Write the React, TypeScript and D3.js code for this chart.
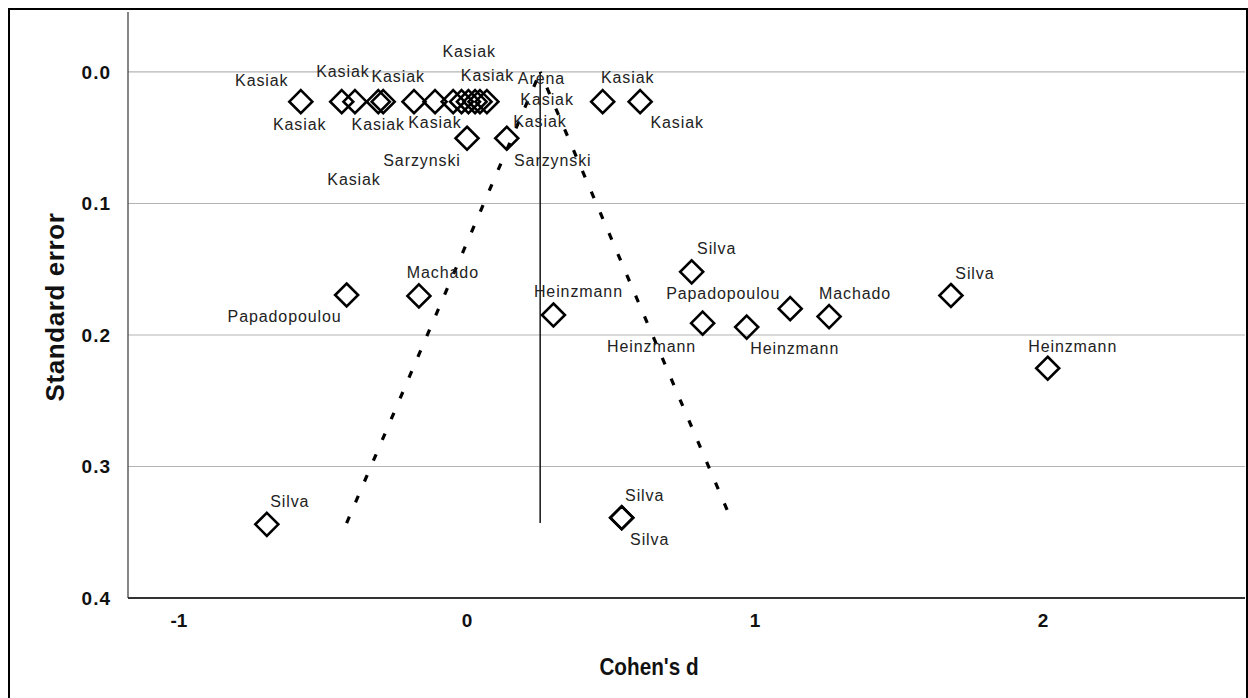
import React from "react";
import * as d3 from "d3";

// funnel plot: effect size vs standard error
const studies = [
  "Kasiak", "Kasiak", "Kasiak", "Kasiak", "Kasiak", "Kasiak", "Kasiak", "Kasiak", "Kasiak", "Arena",
  "Kasiak", "Kasiak", "Kasiak", "Kasiak", "Kasiak", "Sarzynski", "Sarzynski", "Silva", "Papadopoulou", "Machado",
  "Heinzmann", "Heinzmann", "Heinzmann", "Papadopoulou", "Machado", "Silva", "Heinzmann", "Silva", "Silva", "Silva",
];
const cohenD = [
  -0.577, -0.435, -0.389, -0.308, -0.291, -0.184, -0.111, -0.048, -0.019, 0.005,
  0.028, 0.045, 0.069, 0.471, 0.601, 0.0, 0.138, 0.78, -0.418, -0.167,
  0.3, 0.818, 0.971, 1.122, 1.257, 1.68, 2.016, -0.695, 0.537, 0.537,
];
const stdErr = [
  0.0226, 0.0226, 0.0226, 0.0226, 0.0226, 0.0226, 0.0226, 0.0226, 0.0226, 0.0226,
  0.0226, 0.0226, 0.0226, 0.0226, 0.0226, 0.0504, 0.0504, 0.152, 0.1696, 0.1703,
  0.1848, 0.191, 0.194, 0.18, 0.186, 0.17, 0.2253, 0.344, 0.339, 0.339,
];
const pooledD = 0.254;
const funnelLeft: [number, number][] = [[-0.418, 0.343], [0.254, 0]];
const funnelRight: [number, number][] = [[0.903, 0.333], [0.254, 0]];
const xTicks = [-1, 0, 1, 2];
const yTicks = [0, 0.1, 0.2, 0.3, 0.4];

// label placement in pixels relative to the marker (null = not shown)
const labelOffsets: ([number, number] | null)[] = [
  [-39, -21], [-42, 23], [-12, -30], [0, 23], [15, -25], [21, 21], [-81, 78], [16, -50], [26, -26], [73, -23],
  [72, -2], [60, 20], null, [25, -24], [37, 21], [-45, 22], [46, 22], [25, -24], [-62, 21], [24, -24],
  [25, -24], [-51, 23], [48, 21], [-67, -15], [26, -23], [24, -22], [25, -22], [23, -23], [23, -23], [28, 21],
];

export default function App() {
  const W = 1248, H = 698;
  const m = { l: 128, r: 1245, t: 12, b: 598 };
  const x = d3.scaleLinear().domain([-1.177, 2.701]).range([m.l, m.r]);
  const y = d3.scaleLinear().domain([-0.0456, 0.4]).range([m.t, m.b]);
  const line = d3.line<[number, number]>().x((d) => x(d[0])).y((d) => y(d[1]));
  const font = "'Liberation Sans', Arial, sans-serif";
  const r = 11.5;

  return (
    <svg width={W} height={H} style={{ position: "absolute", left: 0, top: 0, background: "#fff" }} fontFamily={font}>
      <rect x={9} y={9} width={W - 10} height={H} fill="#fff" stroke="#000" strokeWidth={2} />
      {yTicks.slice(0, -1).map((t) => (
        <line key={t} x1={m.l} x2={m.r} y1={y(t)} y2={y(t)} stroke="#b4b4b4" strokeWidth={1.2} />
      ))}
      <line x1={m.l} x2={m.l} y1={m.t} y2={m.b} stroke="#444" strokeWidth={1.3} />
      <line x1={m.l} x2={m.r} y1={m.b} y2={m.b} stroke="#333" strokeWidth={1.8} />
      {yTicks.map((t) => (
        <text key={t} x={111} y={y(t)} dy="0.36em" textAnchor="end" fontSize={19} fontWeight="bold" letterSpacing={1} fill="#111">
          {t.toFixed(1)}
        </text>
      ))}
      {xTicks.map((t) => (
        <text key={t} x={x(t)} y={620} dy="0.36em" textAnchor="middle" fontSize={19} fontWeight="bold" fill="#111">
          {t}
        </text>
      ))}
      <text transform="translate(649,667) scale(0.9,1)" dy="0.36em" textAnchor="middle" fontSize={23} fontWeight="bold" fill="#111">
        Cohen's d
      </text>
      <text transform="translate(55,307) rotate(-90)" dy="0.36em" textAnchor="middle" fontSize={26} fontWeight="bold" letterSpacing={0.6} fill="#111">
        Standard error
      </text>
      <line x1={x(pooledD)} x2={x(pooledD)} y1={y(0)} y2={y(0.343)} stroke="#222" strokeWidth={1.6} />
      {[funnelLeft, funnelRight].map((f, i) => (
        <path key={i} d={line(f) || ""} fill="none" stroke="#000" strokeWidth={3.2} strokeDasharray="7 15.6" />
      ))}
      {cohenD.map((d, i) => {
        const cx = x(d), cy = y(stdErr[i]);
        return (
          <path key={i} d={`M${cx},${cy - r}L${cx + r},${cy}L${cx},${cy + r}L${cx - r},${cy}Z`} fill="none" stroke="#000" strokeWidth={2.6} />
        );
      })}
      {cohenD.map((d, i) => {
        const o = labelOffsets[i];
        if (!o) return null;
        return (
          <text key={i} x={x(d) + o[0]} y={y(stdErr[i]) + o[1]} dy="0.36em" textAnchor="middle" fontSize={16} letterSpacing={0.9} fill="#222">
            {studies[i]}
          </text>
        );
      })}
    </svg>
  );
}
